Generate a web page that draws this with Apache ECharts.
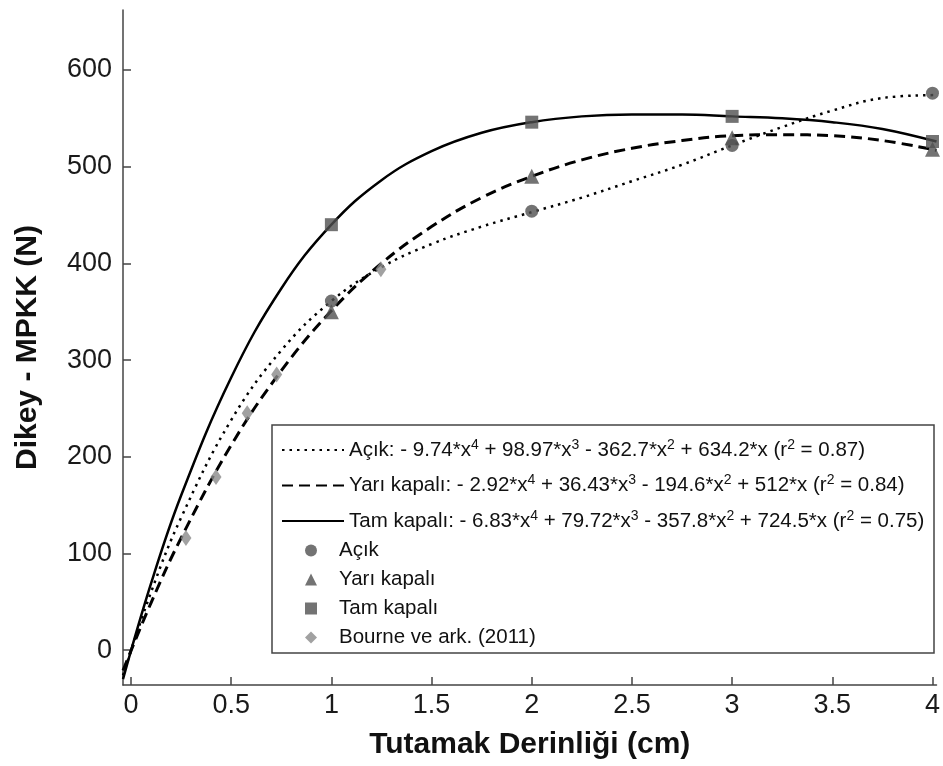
<!DOCTYPE html>
<html>
<head>
<meta charset="utf-8">
<script src="https://cdn.jsdelivr.net/npm/echarts@6/dist/echarts.min.js"></script>
<style>
html,body{margin:0;padding:0;background:#fff;}
#chart{width:943px;height:766px;}
</style>
</head>
<body>
<div id="chart"></div>
<script>
// ---- data ----
const xTicks = [0, 0.5, 1, 1.5, 2, 2.5, 3, 3.5, 4];
const yTicks = [0, 100, 200, 300, 400, 500, 600];

const xFit = [-0.04, 0.1, 0.25, 0.5, 0.75, 1, 1.25, 1.5, 1.75, 2, 2.25, 2.5, 2.75, 3, 3.25, 3.5, 3.75, 4.02];
const acikFit = [-26, 60, 137, 238, 310, 361, 396, 420, 438, 453, 468, 485, 502, 522, 541, 558, 571, 574];
const yariFit = [-21, 49, 116, 212, 289, 351, 400, 438, 468, 490, 507, 519, 527, 532, 533, 532, 527, 517];
const tamFit  = [-30, 69, 160, 282, 374, 440, 486, 516, 535, 546, 552, 554, 554, 552, 550, 546, 539, 526];

const xPts = [1, 2, 3, 4];
const acikPts = [361, 454, 522, 576];
const yariPts = [350, 490, 530, 518];
const tamPts  = [440, 546, 552, 526];

const bourneX = [0.274, 0.424, 0.58, 0.727, 1.247];
const bourneY = [116, 179, 245, 285, 394];

const fitNames = [
  'Açık: - 9.74*x^4 + 98.97*x^3 - 362.7*x^2 + 634.2*x (r^2 = 0.87)',
  'Yarı kapalı: - 2.92*x^4 + 36.43*x^3 - 194.6*x^2 + 512*x (r^2 = 0.84)',
  'Tam kapalı: - 6.83*x^4 + 79.72*x^3 - 357.8*x^2 + 724.5*x (r^2 = 0.75)'
];
const pointNames = ['Açık', 'Yarı kapalı', 'Tam kapalı', 'Bourne ve ark. (2011)'];

// ---- build ----
const zip = (xs, ys) => xs.map((x, i) => [x, ys[i]]);
const FONT = 'Liberation Sans, Arial, sans-serif';
const DARK = '#505050';

const chart = echarts.init(document.getElementById('chart'), null, {renderer: 'canvas'});

const option = {
  animation: false,
  backgroundColor: '#fff',
  textStyle: {fontFamily: FONT},
  grid: {left: 123, right: 6, top: 10, bottom: 81, containLabel: false},
  xAxis: {
    type: 'value', min: -0.04, max: 4.02,
    name: 'Tutamak Derinliği (cm)', nameLocation: 'middle', nameGap: 45,
    nameTextStyle: {fontSize: 30, fontWeight: 'bold', color: '#111', fontFamily: FONT},
    axisLine: {show: true, onZero: false, lineStyle: {color: '#444', width: 1.5}},
    axisTick: {show: true, inside: true, length: 8, customValues: xTicks, lineStyle: {color: '#444', width: 1.5}},
    axisLabel: {customValues: xTicks, fontSize: 27, color: '#1a1a1a', margin: 7, fontFamily: FONT},
    splitLine: {show: false}
  },
  yAxis: {
    type: 'value', min: -36, max: 662,
    name: 'Dikey - MPKK (N)', nameLocation: 'middle', nameGap: 80,
    nameTextStyle: {fontSize: 30, fontWeight: 'bold', color: '#111', fontFamily: FONT},
    axisLine: {show: true, onZero: false, lineStyle: {color: '#444', width: 1.5}},
    axisTick: {show: true, inside: true, length: 8, customValues: yTicks, lineStyle: {color: '#444', width: 1.5}},
    axisLabel: {customValues: yTicks, fontSize: 27, color: '#1a1a1a', margin: 11, fontFamily: FONT},
    splitLine: {show: false}
  },
  graphic: [{
    type: 'rect', z: 3, silent: true,
    shape: {x: 272, y: 425, width: 662, height: 228},
    style: {fill: '#fff', stroke: '#444', lineWidth: 1.5}
  }],
  legend: [{
    orient: 'vertical', left: 281, top: 438, padding: 0, itemGap: 13,
    itemWidth: 62, itemHeight: 24, selectedMode: false, z: 5,
    itemStyle: {color: 'rgba(0,0,0,0)', opacity: 0, borderWidth: 0},
    data: fitNames,
    formatter: function (name) {
      return '{a|' + name.replace(/\^(\d)/g, '}{s|$1}{a|') + '}';
    },
    textStyle: {
      color: '#111', fontSize: 20.5, fontFamily: FONT,
      rich: {
        a: {fontSize: 20.5, lineHeight: 24, color: '#111', fontFamily: FONT},
        s: {fontSize: 14, lineHeight: 10, verticalAlign: 'top', color: '#111', fontFamily: FONT}
      }
    }
  }, {
    orient: 'vertical', left: 305, top: 540, padding: 0, itemGap: 8,
    itemWidth: 12, itemHeight: 12, selectedMode: false, z: 5,
    data: pointNames,
    textStyle: {color: '#111', fontSize: 20.5, lineHeight: 20, fontFamily: FONT, padding: [0, 0, 0, 17]}
  }],
  series: [
    {
      name: fitNames[0], type: 'line', data: zip(xFit, acikFit), smooth: 0.4,
      symbol: 'none', z: 2,
      lineStyle: {color: '#000', width: 2.5, type: [2.5, 5], cap: 'butt'}
    },
    {
      name: fitNames[1], type: 'line', data: zip(xFit, yariFit), smooth: 0.4,
      symbol: 'none', z: 2,
      lineStyle: {color: '#000', width: 3, type: [11, 6], cap: 'butt'}
    },
    {
      name: fitNames[2], type: 'line', data: zip(xFit, tamFit), smooth: 0.4,
      symbol: 'none', z: 2,
      lineStyle: {color: '#000', width: 2.5, type: 'solid'}
    },
    {
      name: pointNames[0], type: 'scatter', data: zip(xPts, acikPts),
      symbol: 'circle', symbolSize: 13, z: 4, itemStyle: {color: DARK}
    },
    {
      name: pointNames[1], type: 'scatter', data: zip(xPts, yariPts),
      symbol: 'triangle', symbolSize: 15, z: 4, itemStyle: {color: DARK}
    },
    {
      name: pointNames[2], type: 'scatter', data: zip(xPts, tamPts),
      symbol: 'rect', symbolSize: 13, z: 4, itemStyle: {color: DARK}
    },
    {
      name: pointNames[3], type: 'scatter', data: zip(bourneX, bourneY),
      symbol: 'diamond', symbolSize: [11, 16], z: 4, itemStyle: {color: '#8a8a8a'}
    }
  ]
};
chart.setOption(option);
</script>
</body>
</html>
